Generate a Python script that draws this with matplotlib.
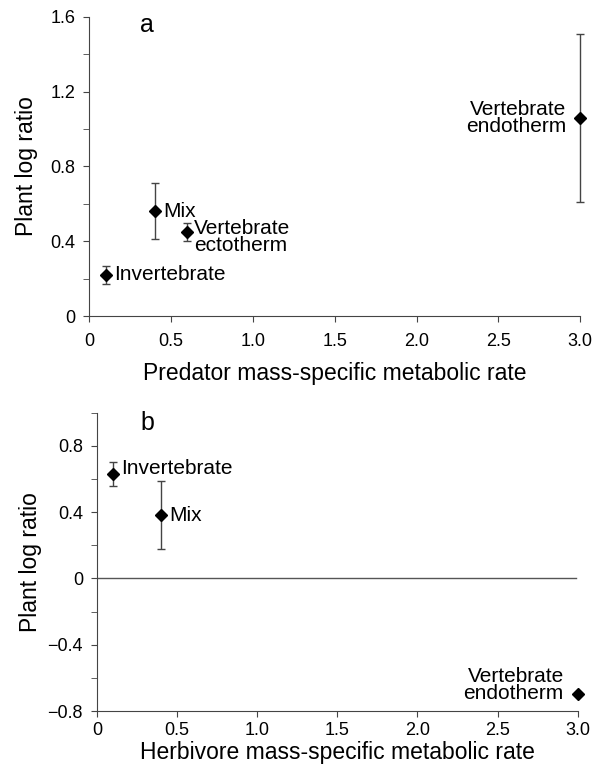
import matplotlib
matplotlib.use("Agg")
from matplotlib import pyplot as plt
from matplotlib.ticker import MultipleLocator, FuncFormatter

plt.rcParams["font.family"] = ["Liberation Sans", "DejaVu Sans"]

# panel a: predators
pred_groups = ["Invertebrate", "Mix", "Vertebrate\nectotherm", "Vertebrate\nendotherm"]
pred_rate = [0.1, 0.4, 0.6, 3.0]
pred_lr = [0.22, 0.56, 0.45, 1.06]
pred_err = [0.05, 0.15, 0.05, 0.45]

# panel b: herbivores
herb_groups = ["Invertebrate", "Mix", "Vertebrate\nendotherm"]
herb_rate = [0.1, 0.4, 3.0]
herb_lr = [0.63, 0.38, -0.70]
herb_err = [0.07, 0.205, 0.0]


def fmt(v, pos):
    if abs(v) < 1e-9:
        return "0"
    return f"{v:.1f}".replace("-", "\u2212")


def style_axes(ax, ylo, yhi, xpad):
    ax.spines["top"].set_visible(False)
    ax.spines["right"].set_visible(False)
    ax.spines["left"].set_color("#444444")
    ax.spines["bottom"].set_color("#444444")
    ax.set_xlim(0, 3.0)
    ax.set_ylim(ylo, yhi)
    ax.xaxis.set_major_locator(MultipleLocator(0.5))
    ax.yaxis.set_major_locator(MultipleLocator(0.4))
    ax.yaxis.set_minor_locator(MultipleLocator(0.2))
    ax.xaxis.set_major_formatter(FuncFormatter(fmt))
    ax.yaxis.set_major_formatter(FuncFormatter(fmt))
    ax.tick_params(axis="both", which="major", labelsize=13, length=4, color="#444444", pad=6)
    ax.tick_params(axis="x", which="major", pad=xpad)
    ax.tick_params(axis="y", which="minor", length=4, color="#444444")


fig = plt.figure(figsize=(5.95, 7.67), dpi=100)

# ---- panel a
ax1 = fig.add_axes([0.150, 0.588, 0.825, 0.390])
style_axes(ax1, 0, 1.6, 8)
ax1.errorbar(pred_rate, pred_lr, yerr=pred_err, fmt="D", color="black",
             ecolor="#444444", elinewidth=1.0, capsize=3, capthick=1.0,
             markersize=6, clip_on=False, zorder=3)
ax1.set_xlabel("Predator mass-specific metabolic rate", fontsize=16.5, labelpad=9)
ax1.set_ylabel("Plant log ratio", fontsize=16.5, labelpad=9)
ax1.text(0.31, 1.555, "a", fontsize=18, ha="left", va="center")

ax1.annotate(pred_groups[0], (pred_rate[0], pred_lr[0]), xytext=(6, 0),
             textcoords="offset points", fontsize=15, ha="left", va="center")
ax1.annotate(pred_groups[1], (pred_rate[1], pred_lr[1]), xytext=(6, 0),
             textcoords="offset points", fontsize=15, ha="left", va="center")
ax1.annotate(pred_groups[2], (pred_rate[2], pred_lr[2]), xytext=(5, 9),
             textcoords="offset points", fontsize=15, ha="left", va="top",
             linespacing=0.85)
ax1.annotate(pred_groups[3], (pred_rate[3], pred_lr[3]), xytext=(-10, 0),
             textcoords="offset points", fontsize=15, ha="right", va="center",
             linespacing=0.85)

# ---- panel b
ax2 = fig.add_axes([0.163, 0.073, 0.808, 0.389])
style_axes(ax2, -0.8, 1.0, 4)
ax2.axhline(0, xmin=0, xmax=0.997, color="#555555", linewidth=1.0)
ax2.errorbar(herb_rate, herb_lr, yerr=herb_err, fmt="D", color="black",
             ecolor="#444444", elinewidth=1.0, capsize=3, capthick=1.0,
             markersize=6, clip_on=False, zorder=3)
ax2.set_xlabel("Herbivore mass-specific metabolic rate", fontsize=16.5, labelpad=1)
ax2.set_ylabel("Plant log ratio", fontsize=16.5, labelpad=4)
ax2.text(0.27, 0.94, "b", fontsize=18, ha="left", va="center")

ax2.annotate(herb_groups[0], (herb_rate[0], herb_lr[0]), xytext=(6, 4),
             textcoords="offset points", fontsize=15, ha="left", va="center")
ax2.annotate(herb_groups[1], (herb_rate[1], herb_lr[1]), xytext=(6, 0),
             textcoords="offset points", fontsize=15, ha="left", va="center")
ax2.annotate(herb_groups[2], (herb_rate[2], herb_lr[2]), xytext=(-10, -6),
             textcoords="offset points", fontsize=15, ha="right", va="bottom",
             linespacing=0.85)

fig.savefig("out.png", dpi=100)
